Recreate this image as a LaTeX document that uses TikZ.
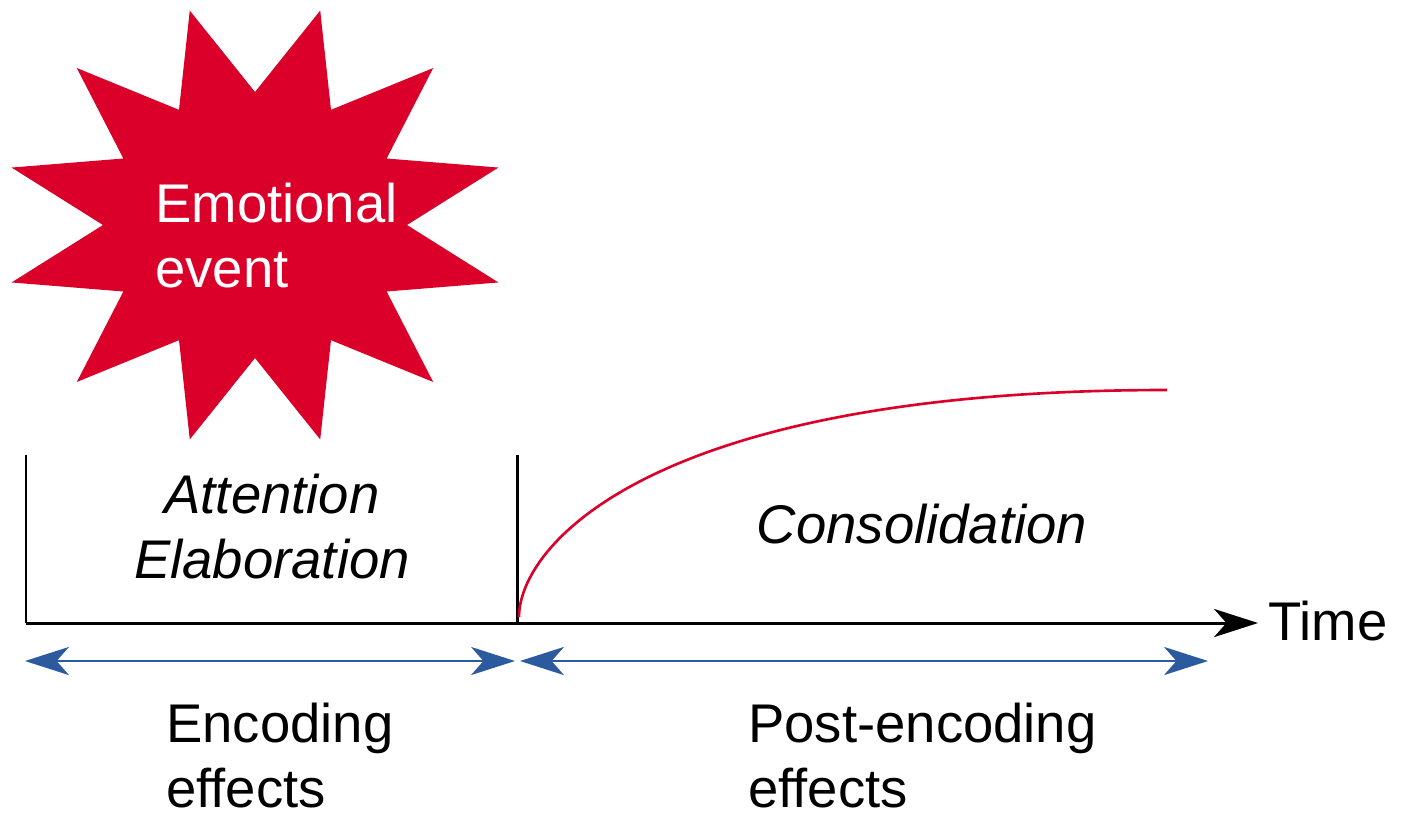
\documentclass[tikz,border=0pt]{standalone}
\usepackage{fontspec}
\setmainfont{Liberation Sans}
\usetikzlibrary{arrows.meta, positioning}
\definecolor{emoRed}{HTML}{DA0029}
\definecolor{spanBlue}{HTML}{2C5A9E}

\begin{document}
\begin{tikzpicture}[
    x=0.02cm, y=-0.02cm,
    >={Stealth[length=25pt, width=16pt, inset=7pt]},
    every node/.style={font=\fontsize{31}{37}\selectfont, inner sep=0pt},
    axis/.style={draw=black, line width=1.7pt},
    span/.style={<->, draw=spanBlue, line width=1.1pt},
    effect/.style={align=left, anchor=base west},
    phase/.style={align=center, anchor=base, font=\fontsize{31}{37}\selectfont\itshape}
]
    \useasboundingbox (0,0) rectangle (1402,819);

    % the burst
    \fill[emoRed] (407,225)
        \foreach \a in {15,45,...,345} {
            -- ({255+252*cos(\a)},{225+222*sin(\a)})
            -- ({255+152*cos(\a+15)},{225+133*sin(\a+15)})
        } -- cycle;
    \node[effect, text=white] (emo) at (155,287) {Emotional\\event};

    % time axis
    \coordinate (O) at (26,623);
    \coordinate (M) at (517,623);
    \coordinate (T) at (1258,623);
    \coordinate (Otop) at (26,455);
    \coordinate (Mtop) at (517,455);
    \draw[axis] (Otop) -- (O);
    \draw[axis] (Mtop) -- (M);
    \draw[axis, ->] (O) -- (T);
    \node[anchor=base west] (time) at (1268,640) {Time};

    % consolidation curve
    \coordinate (cstart) at (519,617);
    \coordinate (cend) at (1167,390);
    \draw[emoRed, line width=1.5pt] (cstart) .. controls (519,547) and (647,390) .. (cend);

    \node[phase] (att) at (272,578) {Attention\\Elaboration};
    \node[phase] (cons) at (922,543) {Consolidation};

    % spans
    \coordinate (e1) at (25,661);
    \coordinate (e2) at (515,661);
    \coordinate (p1) at (520,661);
    \coordinate (p2) at (1208,661);
    \draw[span] (e1) -- (e2);
    \draw[span] (p1) -- (p2);

    \node[effect] (enc) at (166,807) {Encoding\\effects};
    \node[effect] (post) at (748,807) {Post-encoding\\effects};
\end{tikzpicture}
\end{document}
